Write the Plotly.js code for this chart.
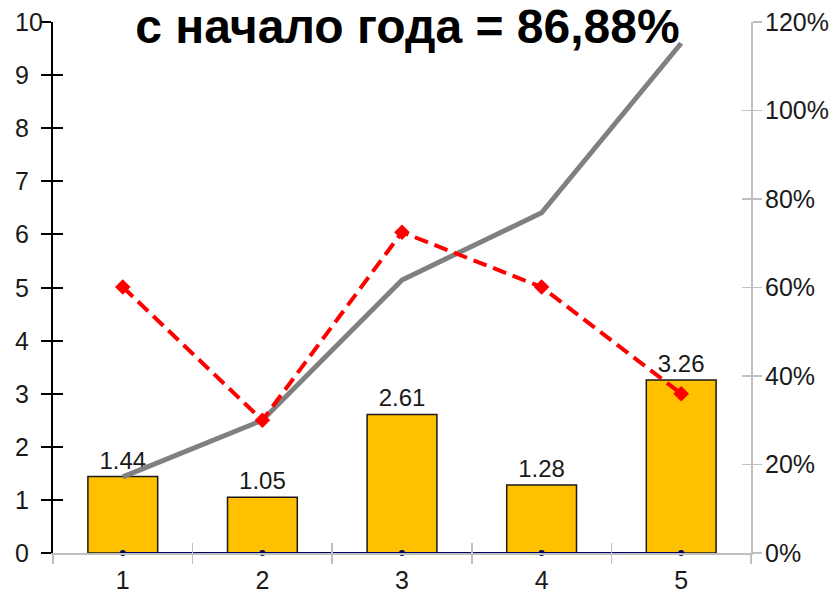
<!DOCTYPE html>
<html>
<head>
<meta charset="utf-8">
<script src="https://cdn.plot.ly/plotly-3.0.1.min.js"></script>
<style>html,body{margin:0;padding:0;background:#fff;}#chart{width:835px;height:593px;}</style>
</head>
<body>
<div id="chart"></div>
<script>
var categories = [1, 2, 3, 4, 5];
var barValues = [1.44, 1.05, 2.61, 1.28, 3.26];
var redPct = [60.1, 30.0, 72.5, 60.1, 36.0];
var grayPct = [17.2, 30.0, 61.7, 76.9, 115.2];
var zeroValues = [0, 0, 0, 0, 0];
var leftTicks = [0, 1, 2, 3, 4, 5, 6, 7, 8, 9, 10];
var rightTicks = [0, 20, 40, 60, 80, 100, 120];
var rightTickText = ['0%', '20%', '40%', '60%', '80%', '100%', '120%'];
var boundaryTicks = [0.5, 1.5, 2.5, 3.5, 4.5, 5.5];
var titleText = 'с начало года = 86,88%';

var font = 'Liberation Sans, Arial, sans-serif';

var traces = [
  {
    type: 'bar', x: categories, y: barValues, width: 0.5,
    marker: {color: '#FFC000', line: {color: '#1a1a1a', width: 1.5}},
    text: barValues.map(function(v){return v.toFixed(2);}),
    textposition: 'outside', cliponaxis: false,
    textfont: {family: font, size: 24, color: '#1a1a1a'},
    hoverinfo: 'skip', xaxis: 'x', yaxis: 'y'
  },
  {
    type: 'scatter', mode: 'lines', x: categories, y: grayPct,
    line: {color: '#808080', width: 5},
    xaxis: 'x', yaxis: 'y2', cliponaxis: false
  },
  {
    type: 'scatter', mode: 'lines+markers', x: categories, y: zeroValues,
    line: {color: '#000066', width: 2}, marker: {color: '#000066', size: 6},
    xaxis: 'x2', yaxis: 'y3', cliponaxis: false
  },
  {
    type: 'scatter', mode: 'lines+markers', x: categories, y: redPct,
    line: {color: '#FF0000', width: 4, dash: '14px,7px'},
    marker: {color: '#FF0000', symbol: 'diamond', size: 12},
    xaxis: 'x3', yaxis: 'y4', cliponaxis: false
  }
];

var annotations = leftTicks.map(function(v){
  return {
    text: String(v), x: -39/698, xref: 'paper', xanchor: 'left',
    y: v, yref: 'y', yanchor: 'middle', showarrow: false, borderpad: 0,
    font: {family: font, size: 25, color: '#1a1a1a'}
  };
});

var layout = {
  width: 835, height: 593,
  margin: {l: 53, r: 84, t: 22, b: 40},
  paper_bgcolor: '#ffffff', plot_bgcolor: 'rgba(0,0,0,0)',
  showlegend: false,
  font: {family: font, color: '#1a1a1a'},
  title: {
    text: '<b>' + titleText + '</b>',
    font: {family: font, size: 48, color: '#000'},
    x: 0.488, xanchor: 'center', xref: 'container',
    y: 1 - 26/593, yanchor: 'middle', yref: 'container'
  },
  annotations: annotations,
  xaxis: {
    range: [0.5, 5.5], tickvals: categories, ticktext: categories.map(String),
    ticks: '', showgrid: false, zeroline: false,
    showline: true, linecolor: '#BFBFBF', linewidth: 1.5, ticklabelstandoff: 4,
    tickfont: {family: font, size: 25, color: '#1a1a1a'}
  },
  xaxis2: {
    overlaying: 'x', anchor: 'y', side: 'bottom', range: [0.5, 5.5],
    tickvals: boundaryTicks, showticklabels: false, ticks: 'outside',
    ticklen: 10, tickcolor: '#BFBFBF', tickwidth: 1.5,
    showgrid: false, zeroline: false, showline: false
  },
  xaxis3: {
    overlaying: 'x', anchor: 'y', side: 'bottom', range: [0.5, 5.5],
    tickvals: boundaryTicks, showticklabels: false, ticks: 'inside',
    ticklen: 10, tickcolor: '#BFBFBF', tickwidth: 1.5,
    showgrid: false, zeroline: false, showline: false
  },
  yaxis: {
    range: [0, 10], tickvals: leftTicks, ticks: 'outside', ticklen: 10,
    tickcolor: '#000', tickwidth: 2, showgrid: false, zeroline: false,
    showline: true, linecolor: '#000', linewidth: 2, showticklabels: false
  },
  yaxis3: {
    overlaying: 'y', anchor: 'x', side: 'left', range: [0, 10], tickvals: leftTicks,
    ticks: 'inside', ticklen: 10, tickcolor: '#000', tickwidth: 2,
    showticklabels: false, showgrid: false, zeroline: false, showline: false
  },
  yaxis2: {
    overlaying: 'y', anchor: 'x', side: 'right', range: [0, 120], tickvals: rightTicks,
    ticktext: rightTickText, ticks: 'outside', ticklen: 9, tickcolor: '#BFBFBF', tickwidth: 1.5,
    showgrid: false, zeroline: false, showline: true, linecolor: '#BFBFBF', linewidth: 2,
    ticklabelstandoff: -2,
    tickfont: {family: font, size: 25, color: '#1a1a1a'}
  },
  yaxis4: {
    overlaying: 'y', anchor: 'x', side: 'right', range: [0, 120], tickvals: rightTicks,
    ticks: 'inside', ticklen: 9, tickcolor: '#BFBFBF', tickwidth: 1.5,
    showticklabels: false, showgrid: false, zeroline: false, showline: false
  }
};

Plotly.newPlot('chart', traces, layout, {displayModeBar: false, staticPlot: true});
</script>
</body>
</html>
